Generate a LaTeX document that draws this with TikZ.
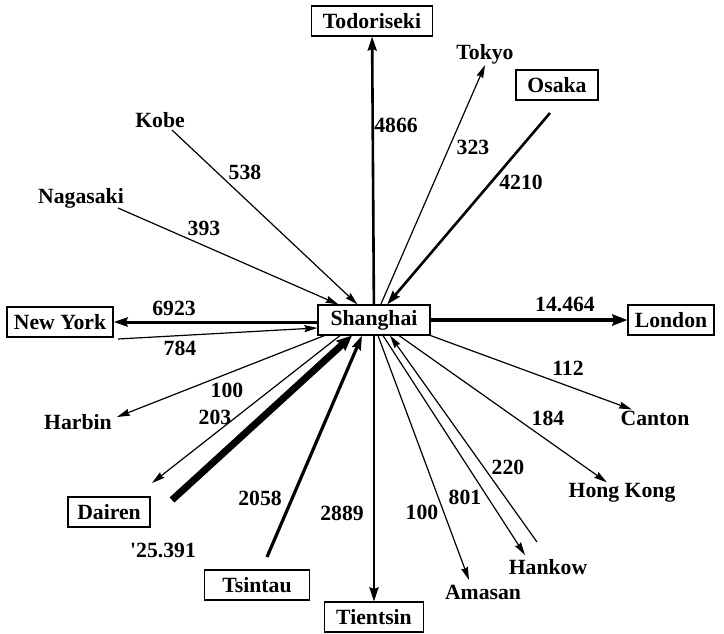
\documentclass[tikz,border=0pt]{standalone}
\usepackage{fontspec}
\setmainfont{Liberation Serif}
\usetikzlibrary{arrows.meta,calc}

\begin{document}
\begin{tikzpicture}[x=1pt,y=1pt,yscale=-1,
  font=\fontsize{21.7}{25}\selectfont\bfseries,
  boxed/.style={draw,line width=1.1pt,minimum height=30pt,inner sep=0pt},
  plain/.style={inner sep=1pt},
  qty/.style={inner sep=0pt},
  flow/.style={line width=1.2pt,-{Stealth[length=13pt,width=7pt,inset=1.5pt]}},
  flowmid/.style={line width=2.6pt,-{Stealth[length=14pt,width=9pt,inset=1.5pt]}},
  flowbig/.style={line width=4.5pt,-{Stealth[length=15pt,width=11pt,inset=1.5pt]}},
  flowheavy/.style={line width=7pt,-{Stealth[length=15pt,width=13pt,inset=1.5pt]}}]
\useasboundingbox (0,0) rectangle (724,633);

% Boxed ports
\node[boxed,minimum width=112pt] (sh) at (374,320) {Shanghai};
\node[boxed,minimum width=121pt] (todo) at (372,21) {Todoriseki};
\node[boxed,minimum width=82pt] (osaka) at (557,85) {Osaka};
\node[boxed,minimum width=106pt] (ny) at (60,322) {New York};
\node[boxed,minimum width=86pt] (london) at (671,320) {London};
\node[boxed,minimum width=82pt] (dairen) at (109,512) {Dairen};
\node[boxed,minimum width=105pt] (tsintau) at (257,585) {Tsintau};
\node[boxed,minimum width=99pt] (tientsin) at (374,617) {Tientsin};

% Text Node
\node[plain] (tokyo) at (485,54) {Tokyo};
\node[plain] (kobe) at (160,120) {Kobe};
\node[plain] (nagasaki) at (81,198) {Nagasaki};
\node[plain] (harbin) at (78,422) {Harbin};
\node[plain] (canton) at (655,418) {Canton};
\node[plain] (hongkong) at (622,493) {Hong Kong};
\node[plain] (hankow) at (548,567) {Hankow};
\node[plain] (amasan) at (483,592) {Amasan};

% free line ends
\coordinate (kobe-t) at (172,130);
\coordinate (naga-t) at (118,208);
\coordinate (osaka-t) at (550,113);
\coordinate (ny-t) at (118,339);
\coordinate (harbin-in) at (117,417);
\coordinate (dairen-in) at (152,483);
\coordinate (dairen-t) at (172,500);
\coordinate (tsintau-t) at (267,557);
\coordinate (amasan-in) at (469,580);
\coordinate (hankow-in) at (525,555);
\coordinate (hankow-t) at (537,542);

% Straight Lines
\draw[flowmid] (sh) -- (todo);
\draw[flow] (sh) -- (tokyo.south);
\draw[flowmid] (osaka-t) -- (sh);
\draw[flow] (kobe-t) -- (sh);
\draw[flow] (naga-t) -- (sh);
\draw[flowmid,line width=3pt] (sh.west |- ny) -- (ny.east);
\draw[flow] (ny-t) -- (sh.188);
\draw[flowbig] (sh.east) -- (london.west);
\draw[flow] (sh.south east) -- (canton);
\draw[flow] ($(sh.south)+(25,0)$) -- (hongkong);
\draw[flow] (hankow-t) -- ($(sh.south)+(16,0)$);
\draw[flow] ($(sh.south)+(9,0)$) -- (hankow-in);
\draw[flow] ($(sh.south)+(4,0)$) -- (amasan-in);
\draw[flowmid] (sh.south) -- (tientsin.north);
\draw[flowmid,line width=3.2pt] (tsintau-t) -- ($(sh.south)+(-12,0)$);
\draw[flowheavy] (dairen-t) -- ($(sh.south)+(-22,0)$);
\draw[flow] ($(sh.south)+(-34,0)$) -- (dairen-in);
\draw[flow] ($(sh.south west)+(7,0)$) -- (harbin-in);

% Quantities
\node[qty] (q4866) at (396,125) {4866};
\node[qty] (q323) at (473,147) {323};
\node[qty] (q4210) at (521,182) {4210};
\node[qty] (q538) at (245,172) {538};
\node[qty] (q393) at (204,228) {393};
\node[qty] (q6923) at (174,308) {6923};
\node[qty] (q784) at (180,348) {784};
\node[qty] (q14464) at (565,304) {14.464};
\node[qty] (q112) at (568,368) {112};
\node[qty] (q184) at (548,418) {184};
\node[qty] (q220) at (508,467) {220};
\node[qty] (q801) at (465,497) {801};
\node[qty] (q100a) at (422,512) {100};
\node[qty] (q2889) at (342,513) {2889};
\node[qty] (q2058) at (260,498) {2058};
\node[qty] (q100b) at (227,390) {100};
\node[qty] (q203) at (215,417) {203};
\node[qty] (q25391) at (163,550) {\textquotesingle 25.391};

\end{tikzpicture}
\end{document}
